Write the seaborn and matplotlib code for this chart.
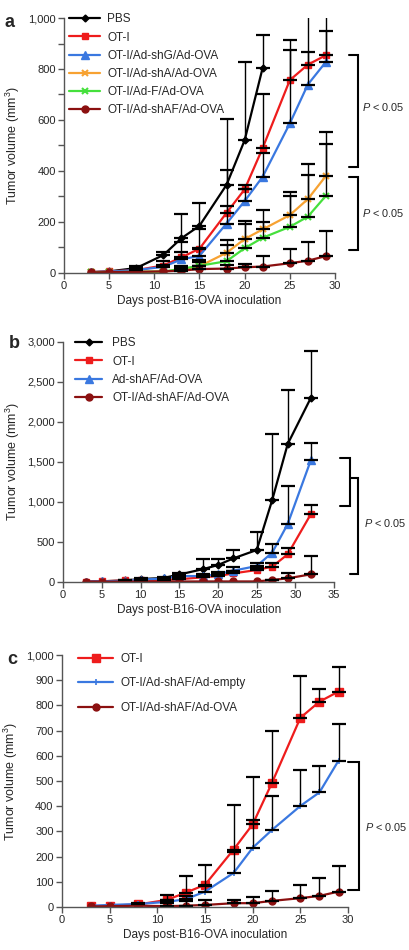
import numpy as np
import matplotlib
matplotlib.use('Agg')
import matplotlib.pyplot as plt
import seaborn as sns
from matplotlib.ticker import FuncFormatter, MultipleLocator

# Dane (srednia + gorny blad)
days_a = [3, 5, 8, 11, 13, 15, 18, 20, 22, 25, 27, 29]
pbs_a = [2, 5, 18, 69, 135, 184, 345, 520, 805]
pbs_a_err = [1, 3, 7, 11, 95, 88, 260, 308, 130]
ot1_a = [2, 5, 10, 28, 60, 94, 235, 327, 490, 756, 817, 854]
ot1_a_err = [1, 3, 5, 17, 60, 76, 168, 17, 210, 159, 200, 163]
shg_a = [2, 4, 10, 23, 52, 66, 193, 281, 377, 586, 739, 828]
shg_a_err = [1, 1, 3, 7, 28, 29, 67, 49, 93, 290, 128, 121]
sha_a = [1, 2, 3, 4, 12, 25, 78, 132, 170, 226, 289, 380]
sha_a_err = [1, 1, 2, 4, 13, 25, 50, 71, 76, 92, 136, 173]
f_a = [1, 2, 3, 4, 15, 27, 45, 96, 137, 180, 220, 302]
f_a_err = [1, 1, 2, 2, 5, 13, 65, 94, 63, 120, 165, 205]
shaf_a = [1, 2, 3, 5, 8, 14, 16, 21, 24, 37, 47, 65]
shaf_a_err = [1, 1, 2, 3, 12, 11, 14, 14, 43, 55, 72, 98]

days_b = [3, 5, 8, 10, 13, 15, 18, 20, 22, 25, 27, 29, 32]
pbs_b = [0, 5, 15, 33, 46, 90, 155, 208, 292, 396, 1021, 1721, 2300]
pbs_b_err = [2, 3, 10, 13, 14, 15, 125, 72, 104, 221, 825, 675, 588]
ot1_b = [0, 5, 15, 20, 25, 30, 55, 71, 104, 146, 188, 342, 846]
ot1_b_err = [1, 2, 3, 5, 5, 10, 20, 20, 25, 30, 40, 75, 112]
adshaf_b = [0, 5, 10, 25, 40, 70, 70, 92, 138, 196, 363, 721, 1521]
adshaf_b_err = [1, 2, 3, 5, 10, 15, 20, 30, 42, 42, 104, 479, 208]
ot1shaf_b = [0, 0, 2, 2, 2, 2, 3, 3, 3, 3, 21, 42, 92]
ot1shaf_b_err = [1, 1, 1, 1, 1, 1, 1, 1, 1, 1, 5, 71, 229]

days_c = [3, 5, 8, 11, 13, 15, 18, 20, 22, 25, 27, 29]
ot1_c = [2, 5, 10, 28, 57, 88, 228, 328, 491, 751, 815, 855]
ot1_c_err = [1, 2, 5, 20, 64, 80, 177, 187, 206, 166, 50, 96]
empty_c = [5, 8, 12, 20, 31, 61, 135, 235, 305, 401, 455, 581]
empty_c_err = [1, 2, 3, 8, 12, 23, 85, 109, 134, 144, 106, 144]
ova_c = [2, 3, 5, 3, 5, 8, 15, 15, 24, 35, 44, 61]
ova_c_err = [1, 1, 2, 12, 20, 20, 13, 24, 41, 53, 71, 103]

BLACK = 'black'
RED = '#ee1c1c'
BLUE = '#3a78e0'
ORANGE = '#f7a232'
GREEN = '#45e03c'
DARKRED = '#8b1010'

sns.set_theme(style='ticks')
plt.rcParams['font.family'] = ['Liberation Sans', 'DejaVu Sans']
plt.rcParams['mathtext.fontset'] = 'custom'
plt.rcParams['mathtext.rm'] = 'Liberation Sans'
plt.rcParams['mathtext.it'] = 'Liberation Sans:italic'
FS = 8
FS_LEG = 8.5
FS_P = 7.8


def seria(ax, days, vals, err, label, color, marker, ms, lw=1.6, mew=1.0):
    d = np.array(days[:len(vals)], dtype=float)
    v = np.array(vals, dtype=float)
    e = np.array(err, dtype=float)
    # male slupki bledow (ukryte pod znacznikami) pomijamy
    m = e >= 5
    ax.errorbar(d[m], v[m], yerr=[np.zeros(m.sum()), e[m]], fmt='none', ecolor='black',
                elinewidth=1.0, capsize=5, capthick=1.6, zorder=2.5)
    sns.lineplot(x=d, y=v, ax=ax, color=color, marker=marker, markersize=ms,
                 markeredgecolor=color, markeredgewidth=mew, linewidth=lw,
                 label=label, zorder=2)


def styl(ax, xmax, ymax, ymajor, yminor):
    ax.set_xlim(0, xmax)
    ax.set_ylim(0, ymax)
    ax.xaxis.set_major_locator(MultipleLocator(5))
    ax.yaxis.set_major_locator(MultipleLocator(ymajor))
    if yminor:
        ax.yaxis.set_minor_locator(MultipleLocator(yminor))
    ax.yaxis.set_major_formatter(FuncFormatter(lambda v, p: f'{int(v):,}'))
    ax.tick_params(axis='both', which='both', labelsize=FS, direction='out',
                   length=4, width=1, color='#555555', pad=2)
    for s in ['top', 'right']:
        ax.spines[s].set_visible(False)
    for s in ['left', 'bottom']:
        ax.spines[s].set_color('#555555')
        ax.spines[s].set_linewidth(1)
    ax.set_xlabel('Days post-B16-OVA inoculation', fontsize=8.5, labelpad=3)
    ax.set_ylabel('Tumor volume (mm$^3$)', fontsize=9, labelpad=4)


def klamra(ax, x0, x1, y0, y1):
    ax.plot([x0, x1, x1, x0], [y0, y0, y1, y1], color='black', lw=1.5,
            clip_on=False, solid_joinstyle='miter')


fig = plt.figure(figsize=(4.1, 9.5), dpi=100)
ax_a = fig.add_axes([0.156, 0.713, 0.661, 0.268])
ax_b = fig.add_axes([0.154, 0.3877, 0.661, 0.2526])
ax_c = fig.add_axes([0.151, 0.0453, 0.698, 0.2652])

# Panel a
seria(ax_a, days_a, pbs_a, pbs_a_err, 'PBS', BLACK, 'D', 3.5)
seria(ax_a, days_a, ot1_a, ot1_a_err, 'OT-I', RED, 's', 5)
seria(ax_a, days_a, shg_a, shg_a_err, 'OT-I/Ad-shG/Ad-OVA', BLUE, '^', 6)
seria(ax_a, days_a, sha_a, sha_a_err, 'OT-I/Ad-shA/Ad-OVA', ORANGE, 'x', 5, mew=1.5)
seria(ax_a, days_a, f_a, f_a_err, 'OT-I/Ad-F/Ad-OVA', GREEN, 'x', 5, mew=1.5)
seria(ax_a, days_a, shaf_a, shaf_a_err, 'OT-I/Ad-shAF/Ad-OVA', DARKRED, 'o', 5)
styl(ax_a, 30, 1000, 200, 100)
ax_a.legend(loc='upper left', bbox_to_anchor=(0.02, 1.018), frameon=False,
            fontsize=FS_LEG, handlelength=2.6, handletextpad=0.6, labelspacing=0.52,
            borderpad=0, borderaxespad=0)
klamra(ax_a, 31.5, 32.6, 856, 416)
klamra(ax_a, 31.5, 32.6, 377, 89)
ax_a.text(33.0, 651, r'$\it{P}$ < 0.05', fontsize=FS_P, va='center', ha='left', clip_on=False)
ax_a.text(33.0, 235, r'$\it{P}$ < 0.05', fontsize=FS_P, va='center', ha='left', clip_on=False)

# Panel b
seria(ax_b, days_b, pbs_b, pbs_b_err, 'PBS', BLACK, 'D', 3.5)
seria(ax_b, days_b, ot1_b, ot1_b_err, 'OT-I', RED, 's', 5)
seria(ax_b, days_b, adshaf_b, adshaf_b_err, 'Ad-shAF/Ad-OVA', BLUE, '^', 6)
seria(ax_b, days_b, ot1shaf_b, ot1shaf_b_err, 'OT-I/Ad-shAF/Ad-OVA', DARKRED, 'o', 5)
styl(ax_b, 35, 3000, 500, None)
ax_b.legend(loc='upper left', bbox_to_anchor=(0.044, 1.018), frameon=False,
            fontsize=FS_LEG, handlelength=2.3, handletextpad=0.85, labelspacing=0.52,
            borderpad=0, borderaxespad=0)
klamra(ax_b, 35.8, 37.0, 1542, 946)
klamra(ax_b, 37.0, 38.1, 1292, 92)
ax_b.text(38.9, 730, r'$\it{P}$ < 0.05', fontsize=FS_P, va='center', ha='left', clip_on=False)

# Panel c
seria(ax_c, days_c, ot1_c, ot1_c_err, 'OT-I', RED, 's', 6)
seria(ax_c, days_c, empty_c, empty_c_err, 'OT-I/Ad-shAF/Ad-empty', BLUE, '+', 5, mew=1.2)
seria(ax_c, days_c, ova_c, ova_c_err, 'OT-I/Ad-shAF/Ad-OVA', DARKRED, 'o', 5)
styl(ax_c, 30, 1000, 100, None)
ax_c.legend(loc='upper left', bbox_to_anchor=(0.056, 1.008), frameon=False,
            fontsize=FS_LEG, handlelength=3.0, handletextpad=0.6, labelspacing=1.05,
            borderpad=0, borderaxespad=0)
klamra(ax_c, 30.0, 31.1, 577, 68)
ax_c.text(31.8, 319, r'$\it{P}$ < 0.05', fontsize=FS_P, va='center', ha='left', clip_on=False)

# Litery paneli
fig.text(0.012, 0.985, 'a', fontsize=13, fontweight='bold', va='top')
fig.text(0.022, 0.647, 'b', fontsize=13, fontweight='bold', va='top')
fig.text(0.018, 0.315, 'c', fontsize=13, fontweight='bold', va='top')

fig.savefig('out.png', dpi=100)
